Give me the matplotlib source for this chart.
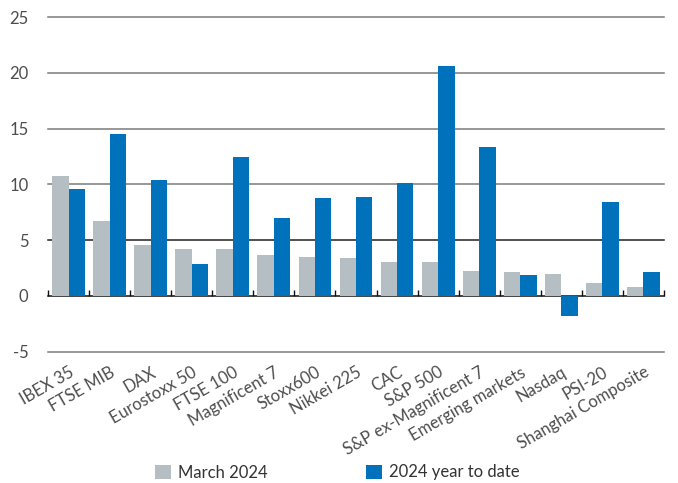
import matplotlib.pyplot as plt
import numpy as np
from matplotlib.patches import Patch

# index names and returns (%)
indices = ['IBEX 35', 'FTSE MIB', 'DAX', 'Eurostoxx 50', 'FTSE 100', 'Magnificent 7',
           'Stoxx600', 'Nikkei 225', 'CAC', 'S&P 500', 'S&P ex-Magnificent 7',
           'Emerging markets', 'Nasdaq', 'PSI-20', 'Shanghai Composite']
march_2024 = [10.75, 6.68, 4.58, 4.2, 4.2, 3.63, 3.5, 3.38, 3.02, 3.02, 2.22, 2.1, 1.95, 1.14, 0.78]
ytd_2024 = [9.59, 14.5, 10.4, 2.82, 12.43, 7.01, 8.78, 8.83, 10.15, 20.63, 13.38, 1.89, -1.83, 8.44, 2.16]
yticks = [-5, 0, 5, 10, 15, 20, 25]

grey = '#b5bfc3'
blue = '#0071bb'
text_col = '#4d4d4d'

plt.rcParams['font.family'] = ['Lato', 'DejaVu Sans']

fig = plt.figure(figsize=(6.78, 4.83), dpi=100)
ax = fig.add_axes([48 / 678, 1 - 351.7 / 483, 616 / 678, (351.7 - 17) / 483])

x = np.arange(len(indices))
w = 0.4
ax.bar(x - w / 2, march_2024, w, color=grey, zorder=3)
ax.bar(x + w / 2, ytd_2024, w, color=blue, zorder=3)

ax.set_xlim(-0.5, len(indices) - 0.5)
ax.set_ylim(-5, 25)
ax.set_yticks(yticks)
ax.set_yticklabels([str(v) for v in yticks], fontsize=12, color=text_col)
ax.tick_params(axis='y', length=0, pad=14)

# horizontal gridlines
for v in yticks:
    if v == 0:
        continue
    col = '#222222' if v == 5 else '#7a7a7a'
    ax.axhline(v, color=col, linewidth=1.1, zorder=1, clip_on=False)

ax.set_xticks(x)
ax.set_xticklabels(indices, rotation=30, ha='right', va='top', rotation_mode='anchor',
                   fontsize=12, color=text_col)
ax.tick_params(axis='x', length=0, pad=9)

for s in ax.spines.values():
    s.set_visible(False)

# zero line with group separator ticks
sec = ax.secondary_xaxis(5 / 30)
sec.set_xticks(np.arange(len(indices) + 1) - 0.5)
sec.set_xticklabels([])
sec.tick_params(axis='x', direction='in', length=4, width=1, color='#111111')
sec.spines['bottom'].set_color('#111111')
sec.spines['bottom'].set_linewidth(1.1)
sec.spines['bottom'].set_zorder(4)

# legend, one entry at a time so each sits where the reference has it
entries = [(grey, 'March 2024', 155), (blue, '2024 year to date', 366)]
for col, lab, px in entries:
    fig.legend(handles=[Patch(facecolor=col, edgecolor='none', label=lab)],
               loc='center left', bbox_to_anchor=(px / 678, 1 - 472.5 / 483),
               frameon=False, fontsize=12, borderpad=0, borderaxespad=0,
               handlelength=16 / 16.7, handleheight=15 / 16.7, handletextpad=0.42,
               labelcolor='#333333')

fig.savefig('out.png', dpi=100)
